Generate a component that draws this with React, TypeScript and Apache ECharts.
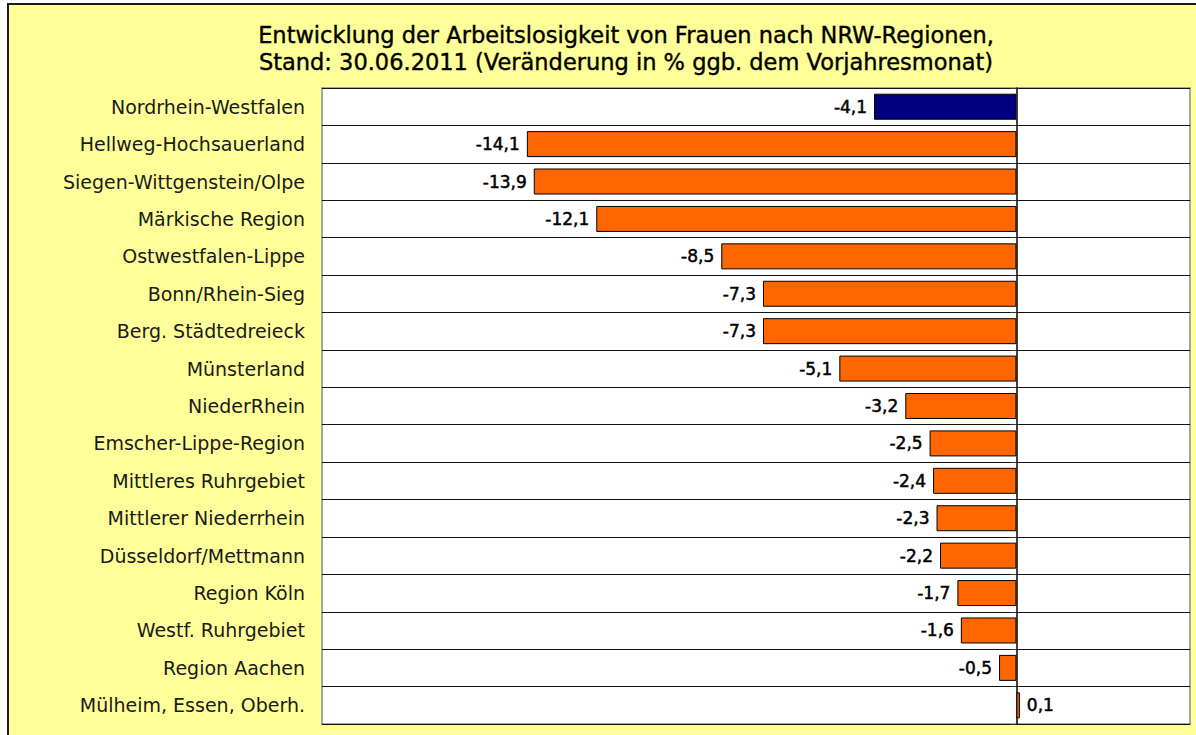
import React, { useEffect, useRef } from "react";
import * as echarts from "echarts";

const categories = [
  "Nordrhein-Westfalen",
  "Hellweg-Hochsauerland",
  "Siegen-Wittgenstein/Olpe",
  "Märkische Region",
  "Ostwestfalen-Lippe",
  "Bonn/Rhein-Sieg",
  "Berg. Städtedreieck",
  "Münsterland",
  "NiederRhein",
  "Emscher-Lippe-Region",
  "Mittleres Ruhrgebiet",
  "Mittlerer Niederrhein",
  "Düsseldorf/Mettmann",
  "Region Köln",
  "Westf. Ruhrgebiet",
  "Region Aachen",
  "Mülheim, Essen, Oberh.",
];

const values = [-4.1, -14.1, -13.9, -12.1, -8.5, -7.3, -7.3, -5.1, -3.2, -2.5, -2.4, -2.3, -2.2, -1.7, -1.6, -0.5, 0.1];

const titleLines = [
  "Entwicklung der Arbeitslosigkeit von Frauen nach NRW-Regionen,",
  "Stand: 30.06.2011 (Veränderung in % ggb. dem Vorjahresmonat)",
];

const FONT = "DejaVu Sans";

export default function App() {
  const ref = useRef<HTMLDivElement>(null);
  useEffect(() => {
    if (!ref.current) return;
    const chart = echarts.init(ref.current, null, { renderer: "svg" });
    const data = values.map((v, i) => ({
      value: v,
      itemStyle: { color: i === 0 ? "#000080" : "#FF6600" },
      label: { position: v < 0 ? "left" : "right" },
    }));
    chart.setOption({
      animation: false,
      backgroundColor: "#ffffff",
      graphic: [
        {
          type: "rect",
          z: -10,
          shape: { x: 8, y: 4, width: 1200, height: 800 },
          style: { fill: "#FFFF99", stroke: "#1a1a1a", lineWidth: 2 },
        },
      ],
      title: {
        text: titleLines.join("\n"),
        left: 621,
        textAlign: "center",
        top: 16,
        textStyle: {
          fontFamily: FONT,
          fontSize: 22.5,
          fontWeight: "normal",
          color: "#000",
          lineHeight: 27,
          textBorderColor: "#000",
          textBorderWidth: 0.4,
        },
      },
      grid: {
        left: 322,
        top: 88,
        width: 868,
        height: 636,
        show: true,
        backgroundColor: "#ffffff",
        borderColor: "#888888",
        borderWidth: 1.5,
      },
      xAxis: {
        type: "value",
        min: -20,
        max: 5,
        show: false,
      },
      yAxis: [
        {
          type: "category",
          data: categories,
          inverse: true,
          axisLine: { show: false, onZero: false },
          axisTick: { show: false },
          splitLine: { show: true, lineStyle: { color: "#111", width: 1 } },
          axisLabel: {
            fontFamily: FONT,
            fontSize: 19,
            color: "#1a1a1a",
            margin: 17,
          },
        },
        {
          type: "category",
          data: categories,
          inverse: true,
          position: "left",
          axisLine: { show: true, onZero: true, lineStyle: { color: "#000", width: 1.5 } },
          axisTick: { show: true, length: 6, lineStyle: { color: "#333" } },
          axisLabel: { show: false },
          splitLine: { show: false },
        },
      ],
      series: [
        {
          type: "bar",
          yAxisIndex: 0,
          data,
          barWidth: 26,
          itemStyle: { borderColor: "#000", borderWidth: 1 },
          label: {
            show: true,
            distance: 7,
            fontFamily: FONT,
            fontSize: 17,
            fontWeight: "normal",
            textBorderColor: "#000",
            textBorderWidth: 0.5,
            color: "#000",
            formatter: (p: any) => String(p.value).replace(".", ","),
          },
        },
      ],
    });
    return () => chart.dispose();
  }, []);
  return (
    <div
      ref={ref}
      style={{ position: "fixed", left: 0, top: 0, width: 1196, height: 735 }}
    />
  );
}
